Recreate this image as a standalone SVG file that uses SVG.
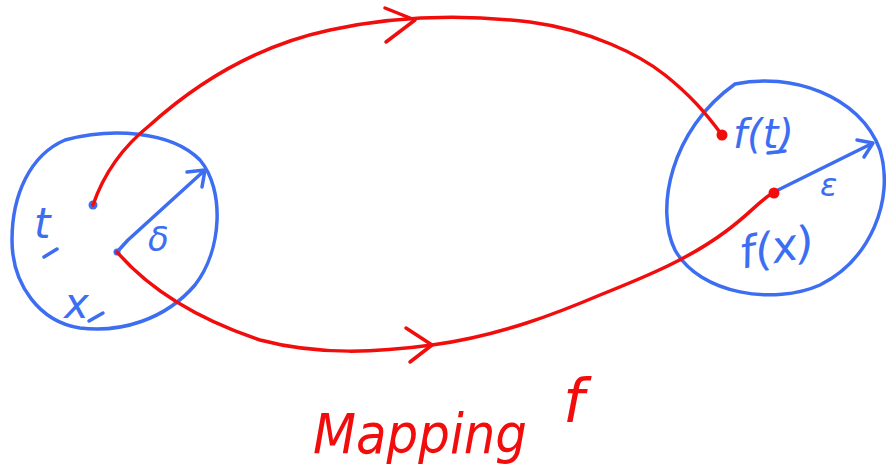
<svg xmlns="http://www.w3.org/2000/svg" width="886" height="476" viewBox="0 0 886 476">
<style>
.b{fill:none;stroke:#3d6ef2;stroke-width:3.5;stroke-linecap:round;stroke-linejoin:round}
.r{fill:none;stroke:#f20d0d;stroke-width:3.5;stroke-linecap:round;stroke-linejoin:round}
.bt{fill:#3d6ef2;font-family:"DejaVu Sans",sans-serif;font-style:italic}
.rt{fill:#f20d0d;font-family:"DejaVu Sans",sans-serif;font-style:italic}
</style>
<rect width="886" height="476" fill="#fff"/>
<g id="domain">
<path class="b" d="M65,140 C110,128 170,130 200,160 C225,190 222,250 195,285 C165,320 120,333 80,328 C40,322 12,285 12,240 C12,195 30,155 65,140 Z"/>
<circle cx="93" cy="205" r="4.5" fill="#3d6ef2"/>
<circle cx="117" cy="252" r="3.5" fill="#3d6ef2"/>
<text class="bt" x="34" y="238" font-size="42">t</text>
<path class="b" d="M44,257 L57,249"/>
<text class="bt" x="64" y="318" font-size="42">x</text>
<path class="b" d="M89,321 L103,313"/>
<path class="b" d="M117,252 L128,240 L205,170 M187,172 L205,170 L202,187"/>
<text class="bt" x="148" y="251" font-size="34">δ</text>
</g>
<g id="codomain">
<path class="b" d="M735,84 C790,72 860,95 880,150 C895,200 870,260 820,285 C775,305 700,295 675,250 C655,210 670,130 735,84 Z"/>
<text class="bt" x="733" y="148" font-size="40">f(t)</text>
<path class="b" d="M768,153 L785,151"/>
<text class="bt" x="737" y="260" font-size="44" transform="rotate(-10 790 235)">f(x)</text>
<path class="b" d="M778,190 L873,143 M857,140 L873,143 L864,157"/>
<text class="bt" x="820" y="196" font-size="32">ε</text>
</g>
<g id="connectors">
<path class="r" d="M93,205 C105,170 125,145 150,125 C200,80 260,45 330,30 C400,15 470,15 530,22 C590,30 640,55 665,75 C690,95 705,112 722,135"/>
<path class="r" d="M385,8 L415,20 L386,42"/>
<circle cx="722" cy="135" r="5.5" fill="#f20d0d"/>
<path class="r" d="M117,252 C150,290 200,320 260,340 C320,356 380,352 432,345 C500,336 560,312 600,295 C650,275 690,258 725,232 C750,214 760,200 773,193"/>
<path class="r" d="M406,328 L432,345 L410,362"/>
<circle cx="774" cy="193" r="5.5" fill="#f20d0d"/>
</g>
<g id="label">
<text class="rt" x="313" y="453" font-size="56" textLength="214" lengthAdjust="spacingAndGlyphs">Mapping</text>
<text class="rt" x="563" y="422" font-size="60">f</text>
</g>
</svg>
